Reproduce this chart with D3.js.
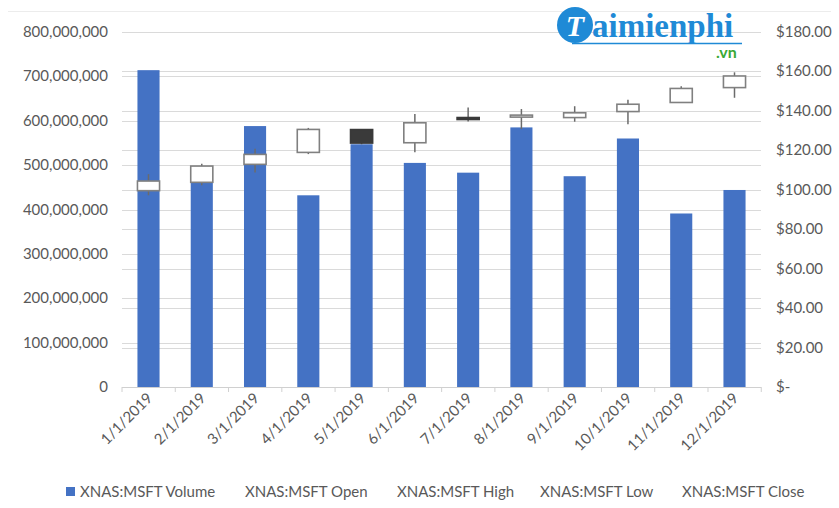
<!DOCTYPE html>
<html>
<head>
<meta charset="utf-8">
<script src="https://cdn.jsdelivr.net/npm/d3@7"></script>
<style>
  body { margin: 0; background: #fff; }
  text { font-family: Lato, "Open Sans", sans-serif; }
</style>
</head>
<body>
<script>
// Monthly data
var months = ["1/1/2019", "2/1/2019", "3/1/2019", "4/1/2019", "5/1/2019", "6/1/2019",
              "7/1/2019", "8/1/2019", "9/1/2019", "10/1/2019", "11/1/2019", "12/1/2019"];
var volume = [714e6, 467e6, 588e6, 432e6, 547e6, 505e6, 483e6, 585e6, 475e6, 560e6, 391e6, 444e6];
var priceOpen  = [99.55, 103.78, 112.89, 118.95, 130.53, 123.85, 136.63, 137.00, 136.61, 139.66, 144.26, 151.81];
var priceHigh  = [107.90, 113.24, 120.82, 131.37, 130.65, 138.40, 141.68, 140.94, 142.37, 145.67, 152.50, 159.55];
var priceLow   = [97.20, 102.35, 108.80, 118.10, 123.04, 119.01, 134.67, 130.78, 134.51, 133.22, 143.97, 146.65];
var priceClose = [104.43, 112.03, 117.94, 130.60, 123.68, 133.96, 136.27, 137.86, 139.03, 143.37, 151.38, 157.70];

var volTicks = [0, 100e6, 200e6, 300e6, 400e6, 500e6, 600e6, 700e6, 800e6];
var priceTicks = [0, 20, 40, 60, 80, 100, 120, 140, 160, 180];
var legendNames = ["XNAS:MSFT Volume", "XNAS:MSFT Open", "XNAS:MSFT High", "XNAS:MSFT Low", "XNAS:MSFT Close"];

var w = 839, h = 508;
var plotLeft = 122, plotRight = 761, plotTop = 32, plotBottom = 387;

var svg = d3.select("body").append("svg")
  .attr("width", w)
  .attr("height", h);

var x = d3.scaleBand().domain(months).range([plotLeft, plotRight]).paddingInner(0.585).paddingOuter(0.29);
var yL = d3.scaleLinear().domain([0, 800e6]).range([plotBottom, plotTop]);
var yR = d3.scaleLinear().domain([0, 180]).range([plotBottom, plotTop]);

// faint chart border line at top
svg.append("line")
  .attr("x1", 8).attr("x2", w - 8).attr("y1", 11.5).attr("y2", 11.5)
  .attr("stroke", "#ececec");

// gridlines for both axes
svg.append("g").selectAll("line")
  .data(volTicks.slice(1))
  .enter().append("line")
  .attr("x1", plotLeft).attr("x2", plotRight)
  .attr("y1", function(d) { return Math.round(yL(d)) + 0.5; })
  .attr("y2", function(d) { return Math.round(yL(d)) + 0.5; })
  .attr("stroke", "#dadada");

svg.append("g").selectAll("line")
  .data(priceTicks.slice(1))
  .enter().append("line")
  .attr("x1", plotLeft).attr("x2", plotRight)
  .attr("y1", function(d) { return Math.round(yR(d)) + 0.5; })
  .attr("y2", function(d) { return Math.round(yR(d)) + 0.5; })
  .attr("stroke", "#dadada");

// volume bars
svg.append("g").selectAll("rect")
  .data(volume)
  .enter().append("rect")
  .attr("x", function(d, i) { return x(months[i]); })
  .attr("width", x.bandwidth())
  .attr("y", function(d) { return yL(d); })
  .attr("height", function(d) { return plotBottom - yL(d); })
  .attr("fill", "#4472c4");

// candlesticks
var candles = svg.append("g").selectAll("g")
  .data(months)
  .enter().append("g");

candles.append("line")
  .attr("x1", function(d) { return x(d) + x.bandwidth() / 2; })
  .attr("x2", function(d) { return x(d) + x.bandwidth() / 2; })
  .attr("y1", function(d, i) { return yR(priceHigh[i]); })
  .attr("y2", function(d, i) { return yR(priceLow[i]); })
  .attr("stroke", "#6b6b6b")
  .attr("stroke-width", 1.5);

candles.append("rect")
  .attr("x", function(d) { return x(d); })
  .attr("width", x.bandwidth())
  .attr("y", function(d, i) { return yR(Math.max(priceOpen[i], priceClose[i])); })
  .attr("height", function(d, i) { return Math.max(2, Math.abs(yR(priceOpen[i]) - yR(priceClose[i]))); })
  .attr("fill", function(d, i) { return priceClose[i] >= priceOpen[i] ? "#fff" : "#3a3a3a"; })
  .attr("stroke", function(d, i) { return priceClose[i] >= priceOpen[i] ? "#808080" : "#3a3a3a"; })
  .attr("stroke-width", 1.6);

// bottom axis with ticks between categories
var xAxis = svg.append("g");
xAxis.append("line")
  .attr("x1", plotLeft).attr("x2", plotRight)
  .attr("y1", plotBottom + 0.5).attr("y2", plotBottom + 0.5)
  .attr("stroke", "#d0d0d0");
xAxis.selectAll(".tk")
  .data(d3.range(months.length + 1))
  .enter().append("line")
  .attr("class", "tk")
  .attr("x1", function(i) { return plotLeft + i * x.step(); })
  .attr("x2", function(i) { return plotLeft + i * x.step(); })
  .attr("y1", plotBottom).attr("y2", plotBottom + 5)
  .attr("stroke", "#d0d0d0");
xAxis.selectAll("text")
  .data(months)
  .enter().append("text")
  .attr("transform", function(d) {
    return "translate(" + (x(d) + x.bandwidth() / 2 + 5) + "," + (plotBottom + 12) + ") rotate(-45)";
  })
  .attr("text-anchor", "end")
  .attr("font-size", "15px")
  .attr("fill", "#595959")
  .text(function(d) { return d; });

// left axis labels
svg.append("g").selectAll("text")
  .data(volTicks)
  .enter().append("text")
  .attr("x", 108)
  .attr("y", function(d) { return yL(d) + 5; })
  .attr("text-anchor", "end")
  .attr("font-size", "15px")
  .attr("fill", "#595959")
  .text(function(d) { return d3.format(",")(d); });

// right axis labels
svg.append("g").selectAll("text")
  .data(priceTicks)
  .enter().append("text")
  .attr("x", 776)
  .attr("y", function(d) { return yR(d) + 5; })
  .attr("font-size", "15px")
  .attr("fill", "#595959")
  .text(function(d) { return d === 0 ? "$-" : d3.format("$,.2f")(d); });

// legend
var legendX = [80, 245, 397, 540, 682];
var legend = svg.append("g");
legend.append("rect")
  .attr("x", 66).attr("y", 487).attr("width", 9).attr("height", 9)
  .attr("fill", "#4472c4");
legend.selectAll("text")
  .data(legendNames)
  .enter().append("text")
  .attr("x", function(d, i) { return legendX[i]; })
  .attr("y", 497)
  .attr("font-size", "15px")
  .attr("fill", "#595959")
  .text(function(d) { return d; });

// watermark logo
var logo = svg.append("g");
logo.append("circle").attr("cx", 575).attr("cy", 25).attr("r", 18).attr("fill", "#1f8ad6");
logo.append("text").attr("x", 575).attr("y", 36).attr("text-anchor", "middle")
  .style("font-family", "'Liberation Serif', serif").attr("font-size", "30px")
  .attr("font-style", "italic").attr("font-weight", "bold").attr("fill", "#fff").text("T");
logo.append("text").attr("x", 592).attr("y", 37)
  .style("font-family", "'Liberation Serif', serif").attr("font-size", "33px")
  .attr("font-weight", "bold").attr("fill", "#1f8ad6").text("aimienphi");
logo.append("line").attr("x1", 572).attr("x2", 742).attr("y1", 43.5).attr("y2", 43.5)
  .attr("stroke", "#1f8ad6").attr("stroke-width", 1.5);
logo.append("text").attr("x", 716).attr("y", 58)
  .attr("font-size", "16px").attr("font-weight", "bold")
  .attr("fill", "#3aa935").text(".vn");
</script>
</body>
</html>
